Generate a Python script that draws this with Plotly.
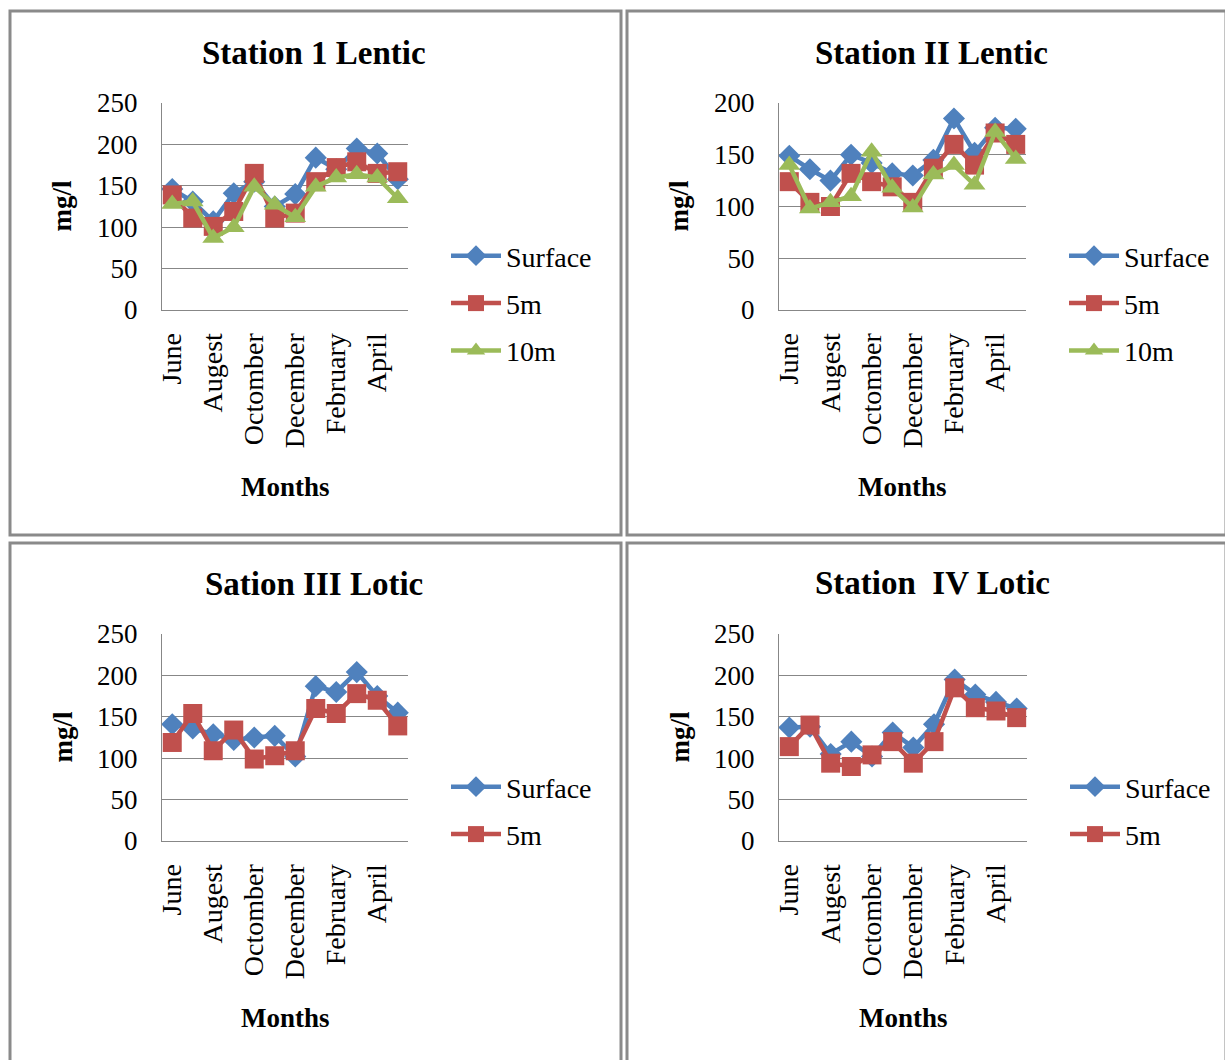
import plotly.graph_objects as go

# Monthly readings (mg/l), June through May
MONTHS = ["June", "July", "Augest", "September", "Octomber", "November",
          "December", "January", "February", "March", "April", "May"]
TICK_MONTHS = MONTHS[::2]

S1_SURFACE = [146, 131, 107, 141, 155, 125, 140, 184, 170, 195, 189, 158]
S1_5M = [139, 111, 101, 119, 165, 111, 117, 155, 172, 179, 165, 167]
S1_10M = [128, 131, 87, 100, 149, 127, 112, 149, 160, 164, 160, 135]

S2_SURFACE = [149, 136, 125, 150, 142, 132, 130, 145, 185, 152, 176, 175]
S2_5M = [124, 104, 100, 132, 124, 119, 104, 137, 160, 140, 171, 160]
S2_10M = [140, 98, 104, 110, 153, 118, 99, 131, 140, 121, 172, 146]

S3_SURFACE = [141, 136, 129, 122, 125, 127, 102, 187, 180, 204, 175, 155]
S3_5M = [119, 154, 109, 134, 99, 103, 109, 160, 154, 178, 170, 139]

S4_SURFACE = [137, 138, 105, 120, 102, 131, 113, 141, 195, 177, 168, 160]
S4_5M = [114, 140, 94, 90, 104, 120, 94, 120, 185, 161, 157, 149]

TITLES = ["Station 1 Lentic", "Station II Lentic", "Sation III Lotic", "Station  IV Lotic"]
SERIES_NAMES = ["Surface", "5m", "10m"]

W, H = 1225, 1060
BLUE, RED, GREEN = "#4F81BD", "#C0504D", "#9BBB59"
GRID = "#878787"
FONT = "Liberation Serif"


def fx(x):
    return x / W


def fy(y):
    return 1 - y / H


# plot-area rectangles in pixels: (left, right, top, bottom)
AREAS = [(162, 408, 103, 310), (779, 1026, 103, 310),
         (162, 408, 634, 841), (779, 1027, 634, 841)]
# panel frames in pixels
FRAMES = [(10, 621, 11, 535), (627, 1226, 11, 535),
          (10, 621, 543, 1064), (627, 1226, 543, 1064)]
TITLE_POS = [(314, 53), (931, 53), (314, 584), (932, 583)]
YMAX = [250, 200, 250, 250]

panels = [
    [S1_SURFACE, S1_5M, S1_10M],
    [S2_SURFACE, S2_5M, S2_10M],
    [S3_SURFACE, S3_5M],
    [S4_SURFACE, S4_5M],
]
styles = [
    dict(color=BLUE, symbol="diamond", size=17),
    dict(color=RED, symbol="square", size=19),
    dict(color=GREEN, symbol="triangle-up", size=19),
]

fig = go.Figure()
layout = dict(
    template="none",
    width=W, height=H, autosize=False,
    margin=dict(l=0, r=0, t=0, b=0, pad=0, autoexpand=False),
    paper_bgcolor="white", plot_bgcolor="white",
    font=dict(family=FONT, color="black", size=27),
    showlegend=True,
    shapes=[], annotations=[],
)

for i, series in enumerate(panels):
    n = i + 1
    xa = "x" if n == 1 else f"x{n}"
    ya = "y" if n == 1 else f"y{n}"
    lg = "legend" if n == 1 else f"legend{n}"
    for j, vals in enumerate(series):
        st = styles[j]
        fig.add_trace(go.Scatter(
            x=MONTHS, y=vals, name=SERIES_NAMES[j],
            mode="lines+markers", xaxis=xa, yaxis=ya, legend=lg,
            legendgroup=f"p{n}s{j}",
            line=dict(color=st["color"], width=4.5),
            marker=dict(color=st["color"], symbol=st["symbol"], size=st["size"],
                        line=dict(width=0)),
            cliponaxis=False,
        ))

    l, r, t, b = AREAS[i]
    layout[f"xaxis{'' if n == 1 else n}"] = dict(
        domain=[fx(l), fx(r)], anchor=ya,
        type="category", categoryorder="array", categoryarray=MONTHS,
        range=[-0.5, 11.5], automargin=False,
        tickmode="array", tickvals=TICK_MONTHS, ticktext=TICK_MONTHS,
        tickangle=-90, tickfont=dict(size=28, family=FONT),
        ticklabelstandoff=11,
        showgrid=False, showline=True, linecolor=GRID, linewidth=1,
        ticks="", zeroline=False, fixedrange=True,
    )
    layout[f"yaxis{'' if n == 1 else n}"] = dict(
        domain=[fy(b), fy(t)], anchor=xa, automargin=False,
        range=[0, YMAX[i]], dtick=50, tick0=0,
        tickfont=dict(size=27, family=FONT),
        showgrid=True, gridcolor=GRID, gridwidth=1,
        showline=True, linecolor=GRID, linewidth=1,
        ticks="", ticklabelstandoff=18, zeroline=False, fixedrange=True,
    )

    # legend to the right of each plot area
    layout[lg] = dict(
        x=fx(r + 38), y=fy(t + 128), xanchor="left", yanchor="top",
        bgcolor="rgba(0,0,0,0)", borderwidth=0,
        font=dict(family=FONT, size=28, color="black"),
        traceorder="grouped", tracegroupgap=8, itemwidth=50,
    )

    # frame
    fl, fr, ft, fb = FRAMES[i]
    layout["shapes"].append(dict(
        type="rect", xref="paper", yref="paper",
        x0=fx(fl), x1=fx(fr), y0=fy(fb), y1=fy(ft),
        line=dict(color="#8a8a8a", width=3), fillcolor="rgba(0,0,0,0)",
    ))

    # title
    tx, ty = TITLE_POS[i]
    layout["annotations"].append(dict(
        text=f"<b>{TITLES[i]}</b>", xref="paper", yref="paper",
        x=fx(tx), y=fy(ty),
        xanchor="center", yanchor="middle", showarrow=False,
        font=dict(family=FONT, size=33, color="black"),
    ))
    # y-axis title
    layout["annotations"].append(dict(
        text="<b>mg/l</b>", xref="paper", yref="paper",
        x=fx(l - 100), y=fy((t + b) / 2),
        xanchor="center", yanchor="middle", showarrow=False, textangle=-90,
        font=dict(family=FONT, size=27, color="black"),
    ))
    # x-axis title
    layout["annotations"].append(dict(
        text="<b>Months</b>", xref="paper", yref="paper",
        x=fx((l + r) / 2), y=fy(b + 177),
        xanchor="center", yanchor="middle", showarrow=False,
        font=dict(family=FONT, size=27, color="black"),
    ))

fig.update_layout(**layout)
fig.write_html("out.html")
